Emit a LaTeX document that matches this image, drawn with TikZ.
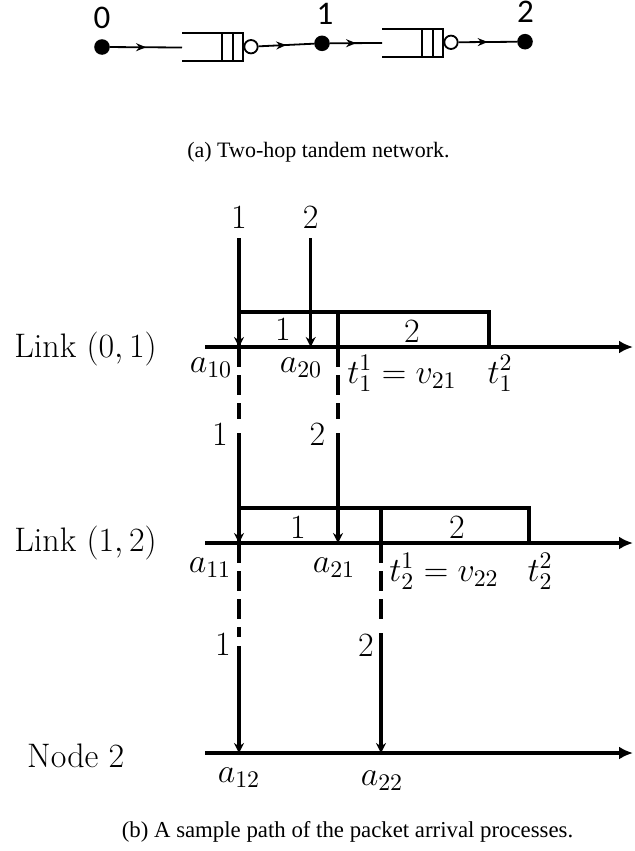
\documentclass[tikz,border=0pt]{standalone}
\usepackage{fix-cm}
\usepackage{fontspec}
\newfontfamily\capfont{Liberation Serif}
\newfontfamily\numfont{Carlito}
\usepackage{tikz}
\usetikzlibrary{arrows.meta,decorations.markings}

\begin{document}
\begin{tikzpicture}[
        x=0.5pt, y=-0.5pt,
        dot/.style={circle, fill=black, inner sep=0pt, minimum size=7.8pt},
        server/.style={circle, draw=black, line width=0.9pt, inner sep=0pt, minimum size=6.7pt},
        qline/.style={line width=0.9pt},
        flow/.style={line width=0.9pt, decoration={markings, mark=at position 0.5 with {\arrow{Stealth[length=5pt,width=4pt]}}}, postaction={decorate}},
        num/.style={font=\numfont\fontsize{16.5}{18}\selectfont, anchor=base, inner sep=0pt},
        lbl/.style={font=\fontsize{17}{20}\selectfont, anchor=base, inner sep=1pt},
        captext/.style={font=\capfont\fontsize{11}{13}\selectfont, anchor=base, inner sep=0pt},
        axis/.style={line width=1.8pt, -{Latex[length=7pt,width=6.5pt]}},
        pkt/.style={line width=1.6pt, -{Stealth[length=5pt,width=5pt]}},
        fwd/.style={line width=1.8pt, dash pattern=on 10pt off 4pt},
        box/.style={draw=black, line width=1.7pt}
        ]
        \useasboundingbox (0,0) rectangle (634,851);

        % (a) two-hop tandem network
        \node[dot] (n0) at (102,47) {};
        \node[dot] (n1) at (322,43.3) {};
        \node[dot] (n2) at (525,41.7) {};
        \node[num] (l0) at (102,28) {0};
        \node[num] (l1) at (325,25) {1};
        \node[num] (l2) at (525.5,23) {2};

        \coordinate (q1) at (182,47.5);
        \coordinate (q2) at (382,43);
        \node[server] (s1) at (251,46.7) {};
        \node[server] (s2) at (451,42.3) {};

        % queues
        \draw[qline] (182,33.3) -- (243,33.3) -- (243,60.7) -- (182,60.7);
        \draw[qline] (222,33.3) -- (222,60.7) (233,33.3) -- (233,60.7);
        \draw[qline] (382,29.3) -- (443.3,29.3) -- (443.3,56.7) -- (382,56.7);
        \draw[qline] (422,29.3) -- (422,56.7) (433,29.3) -- (433,56.7);

        \draw[flow] (n0) -- (q1);
        \draw[flow] (s1) -- (n1);
        \draw[flow] (n1) -- (q2);
        \draw[flow] (s2) -- (n2);

        \node[captext] (capa) at (318.5,157) {(a) Two-hop tandem network.};

        % (b) sample path
        \node[lbl] (link1) at (85.5,357) {Link $(0,1)$};
        \node[lbl] (link2) at (85.5,551) {Link $(1,2)$};
        \node[lbl] (node2) at (75.8,767) {Node 2};

        % arrival and departure instants
        \coordinate (a10) at (239,347);
        \coordinate (a20) at (310.7,347);
        \coordinate (t11) at (338,347);
        \coordinate (t12) at (489,347);
        \coordinate (a11) at (239,543);
        \coordinate (a21) at (338,543);
        \coordinate (t21) at (381,543);
        \coordinate (t22) at (529,543);
        \coordinate (a12) at (239,753);
        \coordinate (a22) at (381,753);

        % service boxes
        \draw[box] (a10) rectangle (t11 |- 0,312);
        \draw[box] (t11) rectangle (t12 |- 0,312);
        \draw[box] (a11) rectangle (t21 |- 0,508);
        \draw[box] (t21) rectangle (t22 |- 0,508);
        \node[lbl] (b11) at (283,340) {$1$};
        \node[lbl] (b12) at (412,342) {$2$};
        \node[lbl] (b21) at (298,538) {$1$};
        \node[lbl] (b22) at (457,538) {$2$};

        % time axes
        \coordinate (ax1) at (205,347);
        \coordinate (ax2) at (205,543);
        \coordinate (ax3) at (205,753);
        \coordinate (ex1) at (633,347);
        \coordinate (ex2) at (633,543);
        \coordinate (ex3) at (633,753);
        \draw[axis] (ax1) -- (ex1);
        \draw[axis] (ax2) -- (ex2);
        \draw[axis] (ax3) -- (ex3);

        % external arrivals at node 0
        \node[lbl] (in1) at (239,228) {$1$};
        \node[lbl] (in2) at (310.7,228) {$2$};
        \draw[pkt, shorten <=4pt] (in1) -- (a10);
        \draw[pkt, shorten <=4pt] (in2) -- (a20);

        % forwarding to node 1
        \coordinate (e10) at (239,419);
        \coordinate (e20) at (338,419);
        \coordinate (s11) at (239,433);
        \coordinate (s21) at (338,433);
        \draw[fwd] (a10) -- (e10);
        \draw[fwd] (t11) -- (e20);
        \node[lbl] (m1) at (220,445) {$1$};
        \node[lbl] (m2) at (317.5,445) {$2$};
        \draw[pkt] (s11) -- (a11);
        \draw[pkt] (s21) -- (a21);

        % forwarding to node 2
        \coordinate (e11) at (239,637);
        \coordinate (e21) at (381,622);
        \coordinate (s12) at (239,646);
        \coordinate (s22) at (381,633);
        \draw[fwd] (a11) -- (e11);
        \draw[fwd] (t21) -- (e21);
        \node[lbl] (f1) at (223,655) {$1$};
        \node[lbl] (f2) at (366,656) {$2$};
        \draw[pkt] (s12) -- (a12);
        \draw[pkt] (s22) -- (a22);

        % time labels
        \node[lbl] (la10) at (211,372) {$a_{10}$};
        \node[lbl] (la20) at (301,372) {$a_{20}$};
        \node[lbl] (lt11) at (402,383) {$t_1^1=v_{21}$};
        \node[lbl] (lt12) at (500,383) {$t_1^2$};
        \node[lbl] (la11) at (210,572) {$a_{11}$};
        \node[lbl] (la21) at (334,572) {$a_{21}$};
        \node[lbl] (lt21) at (444,581) {$t_2^1=v_{22}$};
        \node[lbl] (lt22) at (540,581) {$t_2^2$};
        \node[lbl] (la12) at (239,782) {$a_{12}$};
        \node[lbl] (la22) at (382,785) {$a_{22}$};

        \node[captext, font=\capfont\fontsize{11.4}{13}\selectfont] (capb) at (347.5,837) {(b) A sample path of the packet arrival processes.};

    \end{tikzpicture}
\end{document}
